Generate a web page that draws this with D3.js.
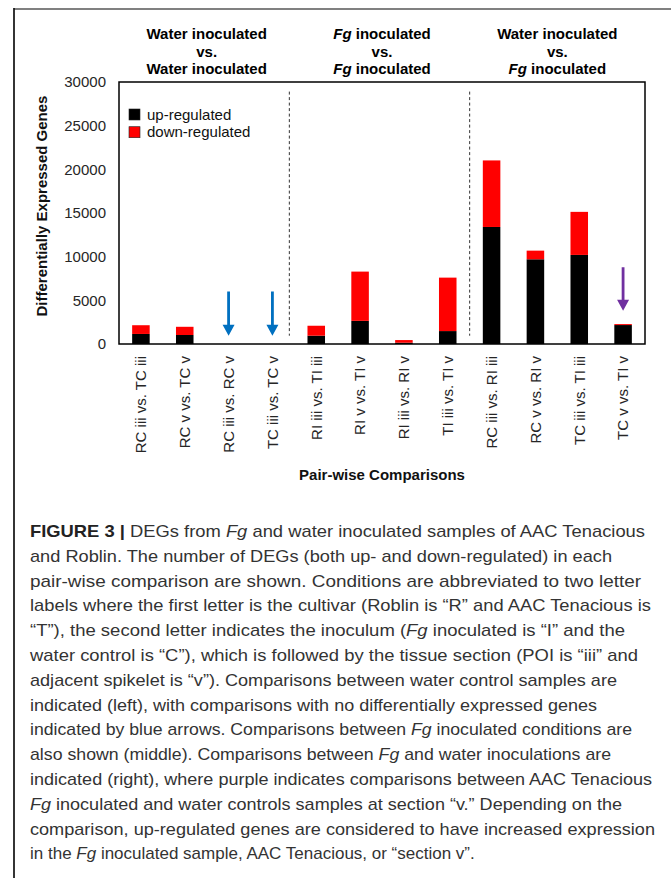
<!DOCTYPE html>
<html><head><meta charset="utf-8">
<script src="https://cdn.jsdelivr.net/npm/d3@7"></script>
<style>html,body{margin:0;padding:0;background:#fff}svg{display:block}</style>
</head><body>
<script>
// ---------------- data ----------------
const categories = [
  "RC iii vs. TC iii","RC v vs. TC v","RC iii vs. RC v","TC iii vs. TC v",
  "RI iii vs. TI iii","RI v vs. TI v","RI iii vs. RI v","TI iii vs. TI v",
  "RC iii vs. RI iii","RC v vs. RI v","TC iii vs. TI iii","TC v vs. TI v"
];
const upRegulated   = [1150, 1030, 0, 0, 950, 2650, 150, 1480, 13400, 9700, 10200, 2170];
const downRegulated = [1000,  940, 0, 0, 1140, 5640, 300, 6120, 7620,  990, 4930,  110];
const yTicks = [0, 5000, 10000, 15000, 20000, 25000, 30000];
const legendItems = ["up-regulated", "down-regulated"];
const seriesColors = ["#000000", "#ff0000"];
const groupHeaders = [
  [[["Water inoculated", false]], [["vs.", false]], [["Water inoculated", false]]],
  [[["Fg", true], [" inoculated", false]], [["vs.", false]], [["Fg", true], [" inoculated", false]]],
  [[["Water inoculated", false]], [["vs.", false]], [["Fg", true], [" inoculated", false]]]
];
const groupMembers = [
  ["RC iii vs. TC iii", "TC iii vs. TC v"],
  ["RI iii vs. TI iii", "TI iii vs. TI v"],
  ["RC iii vs. RI iii", "TC v vs. TI v"]
];
const blueArrowCategories = ["RC iii vs. RC v", "TC iii vs. TC v"];
const purpleArrowCategories = ["TC v vs. TI v"];
const yTitle = "Differentially Expressed Genes";
const xTitle = "Pair-wise Comparisons";
const captionLines = [
  [["FIGURE 3 | ", "b"], ["DEGs from ", ""], ["Fg", "i"], [" and water inoculated samples of AAC Tenacious", ""]],
  [["and Roblin. The number of DEGs (both up- and down-regulated) in each", ""]],
  [["pair-wise comparison are shown. Conditions are abbreviated to two letter", ""]],
  [["labels where the first letter is the cultivar (Roblin is \u201cR\u201d and AAC Tenacious is", ""]],
  [["\u201cT\u201d), the second letter indicates the inoculum (", ""], ["Fg", "i"], [" inoculated is \u201cI\u201d and the", ""]],
  [["water control is \u201cC\u201d), which is followed by the tissue section (POI is \u201ciii\u201d and", ""]],
  [["adjacent spikelet is \u201cv\u201d). Comparisons between water control samples are", ""]],
  [["indicated (left), with comparisons with no differentially expressed genes", ""]],
  [["indicated by blue arrows. Comparisons between ", ""], ["Fg", "i"], [" inoculated conditions are", ""]],
  [["also shown (middle). Comparisons between ", ""], ["Fg", "i"], [" and water inoculations are", ""]],
  [["indicated (right), where purple indicates comparisons between AAC Tenacious", ""]],
  [["Fg", "i"], [" inoculated and water controls samples at section \u201cv.\u201d Depending on the", ""]],
  [["comparison, up-regulated genes are considered to have increased expression", ""]],
  [["in the ", ""], ["Fg", "i"], [" inoculated sample, AAC Tenacious, or \u201csection v\u201d.", ""]]
];
const captionLineEnds = [645, 612, 641, 651, 625, 638, 617, 597, 632, 611, 652, 622, 655, null];

// ---------------- layout ----------------
const W = 671, H = 878;
const plot = {left: 119, right: 645, top: 82, bottom: 344};
const FONT = "'Liberation Sans', Arial, Helvetica, sans-serif";

const svg = d3.select("body").append("svg").attr("width", W).attr("height", H)
  .style("font-family", FONT);

// page frame
svg.append("line").attr("x1", 14).attr("x2", W).attr("y1", 9).attr("y2", 9)
  .attr("stroke", "#808080").attr("stroke-width", 2);
svg.append("line").attr("x1", 14).attr("x2", 14).attr("y1", 8).attr("y2", H)
  .attr("stroke", "#111").attr("stroke-width", 1.7);

const x = d3.scaleBand().domain(categories).range([plot.left, plot.right]).padding(0);
const y = d3.scaleLinear().domain([0, 30000]).range([plot.bottom, plot.top]);
const bw = x.step() * 0.4;
const cx = c => x(c) + x.bandwidth() / 2;

// stacked data
const rows = categories.map((c, i) => ({cat: c, up: upRegulated[i], down: downRegulated[i]}));
const stack = d3.stack().keys(["up", "down"])(rows);

svg.append("g").selectAll("g").data(stack).join("g")
  .attr("fill", (d, i) => seriesColors[i])
  .selectAll("rect").data(d => d).join("rect")
  .attr("x", d => cx(d.data.cat) - bw / 2)
  .attr("width", bw)
  .attr("y", d => y(d[1]))
  .attr("height", d => Math.max(0, y(d[0]) - y(d[1])));

// plot frame
svg.append("rect").attr("x", plot.left).attr("y", plot.top)
  .attr("width", plot.right - plot.left).attr("height", plot.bottom - plot.top)
  .attr("fill", "none").attr("stroke", "#000").attr("stroke-width", 1.5);

// y axis
const yAxis = svg.append("g").attr("transform", `translate(${plot.left},0)`)
  .call(d3.axisLeft(y).tickValues(yTicks).tickSize(0).tickPadding(13).tickFormat(d3.format("d")));
yAxis.select(".domain").remove();
yAxis.selectAll("text").attr("font-size", 15).attr("fill", "#262626").style("font-family", FONT);

// x axis
const xAxis = svg.append("g").attr("transform", `translate(0,${plot.bottom})`)
  .call(d3.axisBottom(x).tickSize(0));
xAxis.select(".domain").remove();
xAxis.selectAll("text")
  .attr("font-size", 15).attr("fill", "#262626").style("font-family", FONT)
  .attr("text-anchor", "end")
  .attr("transform", "rotate(-90)")
  .attr("x", -12).attr("y", 0).attr("dy", "0.35em");

// separators
const sepX = [x(categories[4]) - 5, x(categories[8])];
svg.append("g").selectAll("line").data(sepX).join("line")
  .attr("x1", d => d).attr("x2", d => d)
  .attr("y1", y(28900)).attr("y2", y(950))
  .attr("stroke", "#333").attr("stroke-width", 1).attr("stroke-dasharray", "3,2.5");

// axis titles
svg.append("text")
  .attr("transform", `translate(47,${(plot.top + plot.bottom) / 2 - 7}) rotate(-90)`)
  .attr("text-anchor", "middle").attr("font-size", 15).attr("font-weight", "bold")
  .attr("fill", "#111").text(yTitle);
svg.append("text").attr("x", (plot.left + plot.right) / 2).attr("y", 480)
  .attr("text-anchor", "middle").attr("font-size", 15).attr("font-weight", "bold")
  .attr("fill", "#111").text(xTitle);

// group headers
groupHeaders.forEach((lines, gi) => {
  const [a, b] = groupMembers[gi];
  const gx = (x(a) + x(b) + x.bandwidth()) / 2;
  lines.forEach((segs, li) => {
    const t = svg.append("text").attr("x", gx).attr("y", 39 + li * 17.6)
      .attr("text-anchor", "middle").attr("font-size", 15).attr("font-weight", "bold")
      .attr("fill", "#000");
    segs.forEach(([s, it]) => t.append("tspan").attr("font-style", it ? "italic" : "normal").text(s));
  });
});

// legend
const lg = svg.append("g");
legendItems.forEach((name, i) => {
  lg.append("rect").attr("x", 129).attr("y", 109 + i * 17.7).attr("width", 11).attr("height", 11)
    .attr("fill", seriesColors[i]).attr("stroke", "#222").attr("stroke-width", 0.6);
  lg.append("text").attr("x", 147).attr("y", 119.5 + i * 17.7).attr("font-size", 15)
    .attr("fill", "#111").text(name);
});

// arrows
function arrow(xc, yTop, yTip, color) {
  const headH = 11, headW = 12, shaft = 2.8;
  svg.append("path")
    .attr("d", `M${xc - shaft / 2},${yTop} L${xc + shaft / 2},${yTop} L${xc + shaft / 2},${yTip - headH} ` +
      `L${xc + headW / 2},${yTip - headH} L${xc},${yTip} L${xc - headW / 2},${yTip - headH} ` +
      `L${xc - shaft / 2},${yTip - headH} Z`)
    .attr("fill", color);
}
blueArrowCategories.forEach(c => arrow(cx(c), y(6000), y(950), "#0070C0"));
purpleArrowCategories.forEach(c => arrow(cx(c), y(8800), y(3800), "#7030A0"));

// caption
const capG = svg.append("g").style("font-family", "'Liberation Sans', Roboto, Arial, sans-serif");
captionLines.forEach((segs, i) => {
  const t = capG.append("text").attr("x", 30).attr("y", 537 + i * 24.8)
    .attr("font-size", 17).attr("fill", "#333");
  if (captionLineEnds[i] != null)
    t.attr("textLength", captionLineEnds[i] - 30).attr("lengthAdjust", "spacingAndGlyphs");
  segs.forEach(([s, st]) => {
    const sp = t.append("tspan").text(s);
    if (st === "b") sp.attr("font-weight", "bold").attr("fill", "#222");
    if (st === "i") sp.attr("font-style", "italic");
  });
});
</script>
</body></html>
